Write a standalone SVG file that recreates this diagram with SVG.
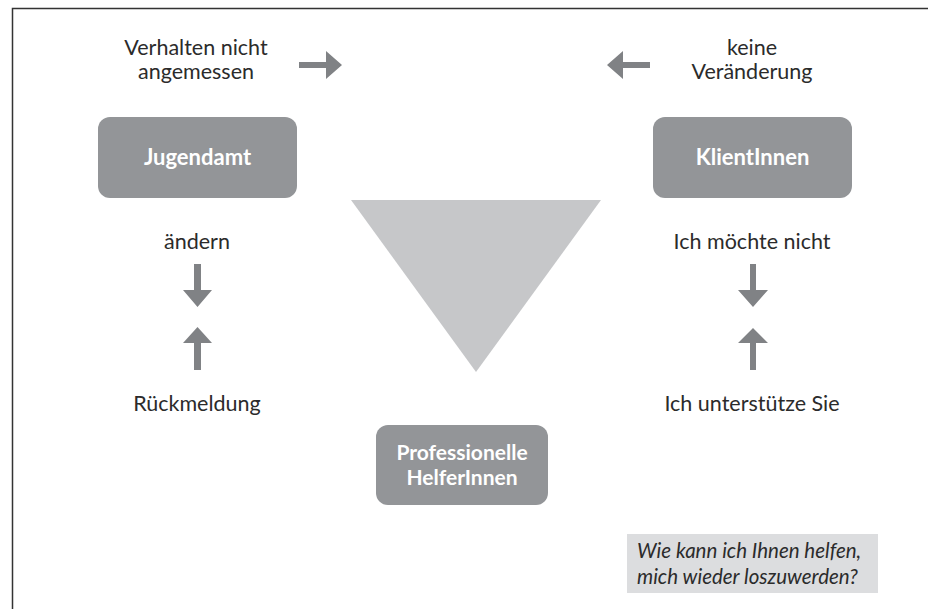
<svg xmlns="http://www.w3.org/2000/svg" width="928" height="609" viewBox="0 0 928 609">
<style>
.t{font-family:Lato,"Open Sans","Liberation Sans",sans-serif;font-size:21.5px;fill:#2b2b2b;text-anchor:middle}
.b{font-family:Lato,"Open Sans","Liberation Sans",sans-serif;font-size:22px;font-weight:bold;fill:#ffffff;text-anchor:middle}
.b2{font-size:21px}
.i{font-family:Lato,"Open Sans","Liberation Sans",sans-serif;font-size:20.5px;font-style:italic;fill:#2b2b2b}
.box{fill:#939598}
.ar{fill:#808285}
</style>
<rect width="928" height="609" fill="#ffffff"/>
<path d="M12.5,609 V8.5 H928" fill="none" stroke="#333333" stroke-width="1.5"/>
<polygon id="triangle" points="351,200 601,200 476,372" fill="#c6c7c9"/>
<g id="jugendamt">
<rect class="box" x="98" y="117" width="199" height="81" rx="12"/>
<text class="b" x="197.5" y="165">Jugendamt</text>
</g>
<g id="klientinnen">
<rect class="box" x="653" y="117" width="199" height="81" rx="12"/>
<text class="b" x="752.5" y="165">KlientInnen</text>
</g>
<g id="helferinnen">
<rect class="box" x="376" y="425" width="172" height="80" rx="12"/>
<text class="b b2" x="462" y="460">Professionelle</text>
<text class="b b2" x="462" y="485">HelferInnen</text>
</g>
<g id="labels">
<text class="t" x="196" y="55">Verhalten nicht</text>
<text class="t" x="196" y="79">angemessen</text>
<text class="t" x="752" y="55">keine</text>
<text class="t" x="752" y="79">Veränderung</text>
<text class="t" x="197" y="249">ändern</text>
<text class="t" x="197" y="411">Rückmeldung</text>
<text class="t" x="752" y="249">Ich möchte nicht</text>
<text class="t" x="752" y="411">Ich unterstütze Sie</text>
</g>
<g id="connectors">
<polygon class="ar" points="299,62 326,62 326,51 342,65 326,79 326,68 299,68"/>
<polygon class="ar" points="650,62 623,62 623,51 607,65 623,79 623,68 650,68"/>
<polygon class="ar" points="194,264 201,264 201,290 212,290 197.5,307 183,290 194,290"/>
<polygon class="ar" points="194,370 201,370 201,343 212,343 197.5,327 183,343 194,343"/>
<polygon class="ar" points="750,264 756,264 756,290 768,290 753,307 738,290 750,290"/>
<polygon class="ar" points="750,370 756,370 756,343 768,343 753,328 738,343 750,343"/>
</g>
<g id="callout">
<rect x="627" y="534" width="251" height="59" fill="#dcdddf"/>
<text class="i" x="637" y="558">Wie kann ich Ihnen helfen,</text>
<text class="i" x="637" y="584">mich wieder loszuwerden?</text>
</g>
</svg>
